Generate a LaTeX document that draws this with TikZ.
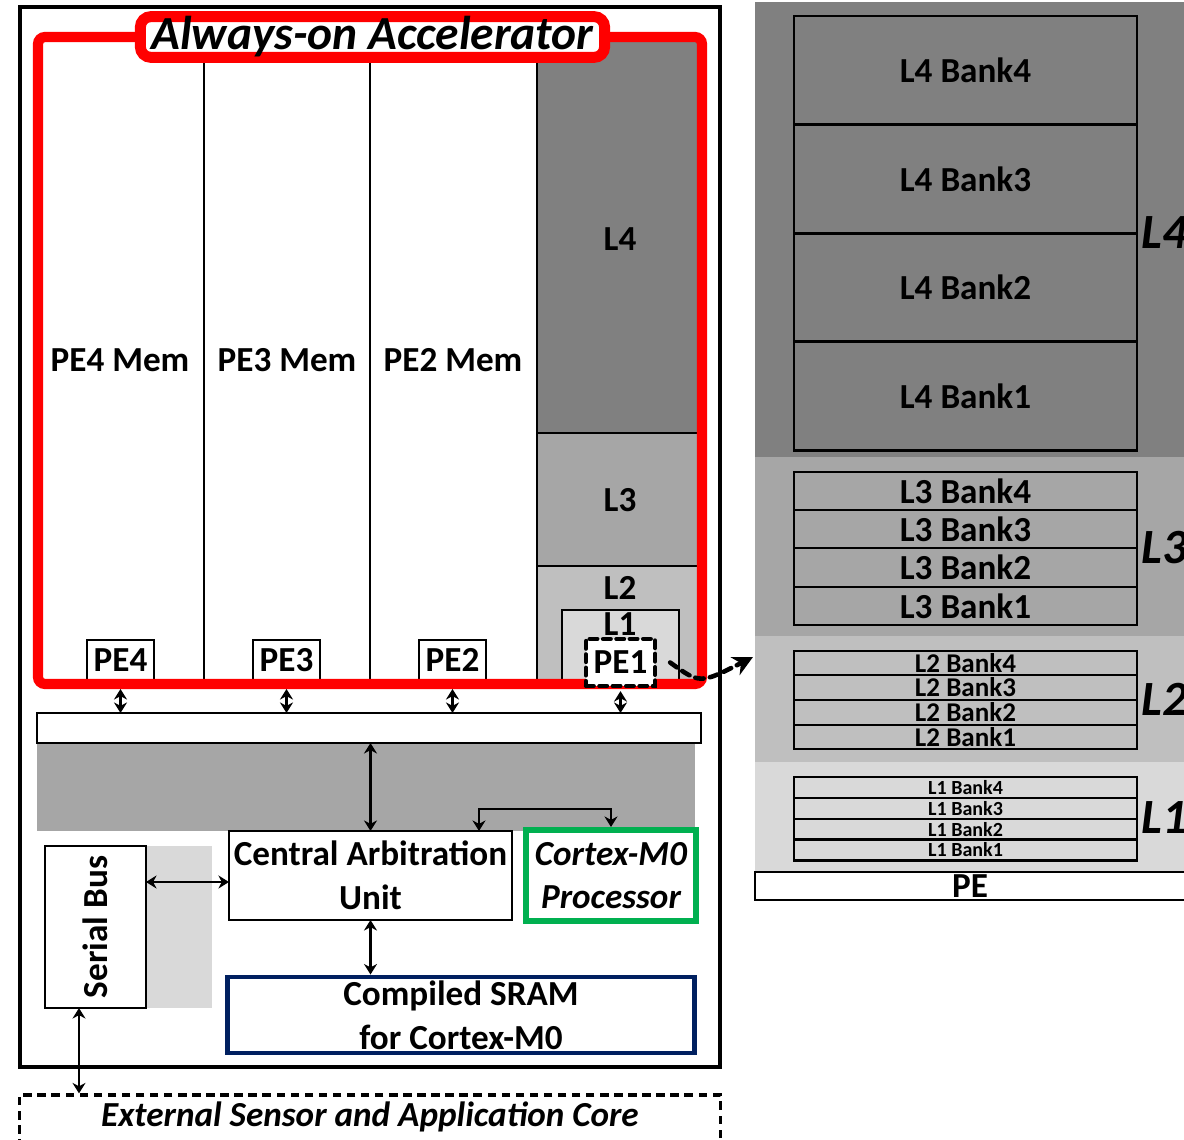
\documentclass[tikz,border=0pt]{standalone}
\usepackage{graphicx}
\usepackage{fontspec}
\setmainfont{Carlito}
\usetikzlibrary{arrows.meta,positioning,calc}
\definecolor{lfour}{HTML}{808080}
\definecolor{lthree}{HTML}{A6A6A6}
\definecolor{ltwo}{HTML}{BFBFBF}
\definecolor{lone}{HTML}{D9D9D9}
\definecolor{aored}{HTML}{FF0000}
\definecolor{mzgreen}{HTML}{00B050}
\definecolor{sramblue}{HTML}{002060}
\tikzset{every picture/.style={line width=0.75pt}}
\tikzset{
  blk/.style={draw, inner sep=0pt, outer sep=0pt, line width=0.7pt},
  txt/.style={font=\fontsize{10}{12.4}\selectfont\bfseries, align=center, inner sep=0pt},
  ittxt/.style={font=\fontsize{10}{12.4}\selectfont\bfseries\itshape, align=center, inner sep=0pt},
  tagtxt/.style={font=\fontsize{14}{16}\selectfont\bfseries\itshape, inner sep=0pt, anchor=west},
  dbl/.style={{Stealth[length=1.05mm,width=1.3mm]}-{Stealth[length=1.05mm,width=1.3mm]}, line width=0.6pt},
}

\begin{document}
\begin{tikzpicture}[x=0.01cm, y=-0.01cm]
    \useasboundingbox (0,0) rectangle (1184,1140);

    % chip outline
    \draw[line width=0.9pt] (20,7) rectangle (720,1067);

    % memory column on the right of the accelerator
    \fill[lfour] (537,42) rectangle (697,433);
    \fill[lthree] (537,433) rectangle (697,566);
    \fill[ltwo] (537,566) rectangle (697,684);
    \draw[line width=0.7pt] (537,433) -- (697,433);
    \draw[line width=0.7pt] (537,566) -- (697,566);
    \node[blk, fill=lone, minimum width=1.17cm, minimum height=0.70cm] (lonebox) at (620.5,645) {};

    % column separators
    \draw[line width=0.7pt] (204,42) -- (204,684);
    \draw[line width=0.7pt] (370,42) -- (370,684);
    \draw[line width=0.7pt] (537,42) -- (537,684);

    % column labels
    \node[txt] (pefourmem) at (120,360) {PE4 Mem};
    \node[txt] (pethreemem) at (287,360) {PE3 Mem};
    \node[txt] (petwomem) at (453,360) {PE2 Mem};
    \node[txt] (lfourlbl) at (620,239) {L4};
    \node[txt] (lthreelbl) at (620,500) {L3};
    \node[txt] (ltwolbl) at (620,588) {L2};
    \node[txt] (lonelbl) at (620,624) {L1};

    % PE boxes
    \node[blk, fill=white, minimum width=0.67cm, minimum height=0.40cm, txt] (pefour) at (120.5,660) {PE4};
    \node[blk, fill=white, minimum width=0.67cm, minimum height=0.40cm, txt] (pethree) at (286.5,660) {PE3};
    \node[blk, fill=white, minimum width=0.67cm, minimum height=0.40cm, txt] (petwo) at (452.5,660) {PE2};

    % always-on accelerator frame
    \draw[aored, line width=2.9pt, rounded corners=2pt] (38,37) rectangle (702,684);
    \node[draw=aored, fill=white, line width=3.1pt, rounded corners=3pt,
          minimum width=4.64cm, minimum height=0.37cm, inner sep=0pt,
          font=\fontsize{13.5}{15}\selectfont\bfseries\itshape] (title) at (372.5,37) {Always-on Accelerator};

    \node[draw, fill=white, line width=1.2pt, dash pattern=on 2.2pt off 1.6pt, line cap=round,
          minimum width=0.69cm, minimum height=0.47cm, txt] (peone) at (620.5,662.5) {PE1};

    % shared bus and arbitration area
    \node[blk, fill=white, minimum width=6.64cm, minimum height=0.30cm] (bus) at (369,728) {};
    \fill[lthree] (37,744) rectangle (695,831);
    \fill[lone] (146,846) rectangle (212,1008);

    \node[blk, fill=white, minimum width=2.83cm, minimum height=0.89cm, txt] (cau) at (370.5,875.5) {Central Arbitration\\Unit};
    \node[draw=mzgreen, fill=white, line width=1.7pt, inner sep=0pt, minimum width=1.70cm, minimum height=0.91cm, ittxt] (cortex) at (611,875.5) {Cortex-M0\\Processor};
    \node[blk, fill=white, minimum width=1.01cm, minimum height=1.62cm, txt] (serial) at (95.5,927) {\rotatebox{90}{Serial Bus}};
    \node[draw=sramblue, line width=1.4pt, inner sep=0pt, minimum width=4.66cm, minimum height=0.76cm, txt] (sram) at (461,1015) {Compiled SRAM\\for Cortex-M0};
    \node[draw, line width=0.9pt, dash pattern=on 2.4pt off 1.6pt, inner sep=0pt,
          minimum width=7.00cm, minimum height=0.60cm, ittxt] (extcore) at (370,1125) {};
    \node[ittxt] (exttxt) at (370,1117) {External Sensor and Application Core};

    % connections
    \draw[dbl] ([yshift=-0.09cm]pefour.south) -- (pefour.south |- bus.north);
    \draw[dbl] ([yshift=-0.09cm]pethree.south) -- (pethree.south |- bus.north);
    \draw[dbl] ([yshift=-0.09cm]petwo.south) -- (petwo.south |- bus.north);
    \draw[dbl] ([yshift=-0.03cm]peone.south) -- (peone.south |- bus.north);
    \draw[dbl] (cau.north |- bus.south) -- (cau.north);
    \coordinate (brk) at (479,809);
    \draw[dbl] (cau.north -| brk) -- (brk) -| (cortex.north);
    \coordinate (sbrow) at (0,882);
    \draw[dbl] (serial.east |- sbrow) -- (cau.west |- sbrow);
    \draw[dbl] (cau.south) -- (cau.south |- sram.north);
    \coordinate (sbx) at (79,0);
    \draw[dbl] (serial.south -| sbx) -- (extcore.north -| sbx);

    % memory hierarchy detail
    \fill[lfour] (755,2) rectangle (1190,457);
    \fill[lthree] (755,457) rectangle (1190,636);
    \fill[ltwo] (755,636) rectangle (1190,762);
    \fill[lone] (755,762) rectangle (1190,871);
    \foreach \i/\ya in {4/70.5, 3/179, 2/287.5, 1/396}{
        \node[blk, minimum width=3.43cm, minimum height=1.085cm, txt] (lfourbank\i) at (965.5,\ya) {L4 Bank\i};
    }
    \foreach \i/\ya in {4/491, 3/529, 2/567.5, 1/606}{
        \node[blk, minimum width=3.43cm, minimum height=0.385cm, txt] (lthreebank\i) at (965.5,\ya) {L3 Bank\i};
    }
    \foreach \i/\ya in {4/663, 3/687.5, 2/712.5, 1/737}{
        \node[blk, minimum width=3.43cm, minimum height=0.245cm, inner sep=0pt,
              font=\fontsize{7.7}{8}\selectfont\bfseries] (ltwobank\i) at (965.5,\ya) {L2 Bank\i};
    }
    \foreach \i/\ya in {4/787.5, 3/808.5, 2/829.5, 1/850}{
        \node[blk, minimum width=3.43cm, minimum height=0.21cm, inner sep=0pt,
              font=\fontsize{5.7}{6}\selectfont\bfseries] (lonebank\i) at (965.5,\ya) {L1 Bank\i};
    }
    \node[tagtxt] (lfourtag) at (1140,233) {L4};
    \node[tagtxt] (lthreetag) at (1140,548) {L3};
    \node[tagtxt] (ltwotag) at (1140,699) {L2};
    \node[tagtxt] (lonetag) at (1140,818) {L1};
    \node[blk, fill=white, minimum width=4.40cm, minimum height=0.28cm, anchor=west, txt] (pedetail) at (755,886) {};
    \node[txt] (petxt) at (970,886) {PE};

    % zoom-in arrow
    \coordinate (zoomend) at (753,657);
    \draw[line width=1.3pt, dash pattern=on 2.4pt off 1.8pt, line cap=round, -{Stealth[length=2mm,width=2mm]}]
        ([xshift=0.13cm]peone.east) .. controls (700,684) .. (zoomend);
\end{tikzpicture}
\end{document}
